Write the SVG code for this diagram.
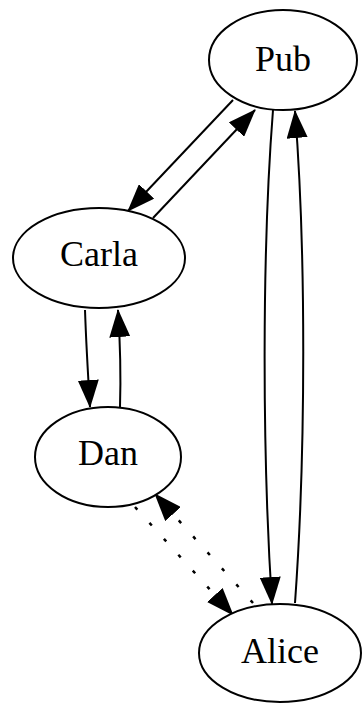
<svg xmlns="http://www.w3.org/2000/svg" width="363" height="704" viewBox="0 0 363 704">
  <style>
    .node ellipse { fill: #ffffff; stroke: #000000; stroke-width: 2; }
    .node text { font-family: "Liberation Serif", "Times New Roman", serif; font-size: 36px; fill: #000000; text-anchor: middle; }
    .edge { fill: none; stroke: #000000; stroke-width: 2; marker-end: url(#arrow); }
    .dotted { stroke-dasharray: 3.5 18; stroke-width: 2.5; }
  </style>
  <defs>
    <marker id="arrow" markerUnits="userSpaceOnUse" markerWidth="28" markerHeight="21" refX="27" refY="10.5" orient="auto" viewBox="0 0 28 21">
      <path d="M0,0 L28,10.5 L0,21 Z" fill="#000000"/>
    </marker>
  </defs>
  <rect width="363" height="704" fill="#ffffff"/>

  <g id="connectors">
    <!-- Pub <-> Carla -->
    <path class="edge" d="M233,100 L128,211"/>
    <path class="edge" d="M153,218 L255,110"/>
    <!-- Carla <-> Dan -->
    <path class="edge" d="M85,310 C86,340 88,375 90,407"/>
    <path class="edge" d="M120,407 C121,375 120,340 118,310"/>
    <!-- Pub <-> Alice -->
    <path class="edge" d="M273,110 C262,250 262,450 272,604"/>
    <path class="edge" d="M295,603 C306,450 306,250 295,111"/>
    <!-- Dan <-> Alice (dotted) -->
    <path class="edge dotted" d="M135,507 L233,615"/>
    <path class="edge dotted" d="M253,603 L155,494"/>
  </g>

  <g id="Pub" class="node">
    <ellipse cx="283" cy="60" rx="74" ry="50"/>
    <text x="283" y="71">Pub</text>
  </g>
  <g id="Carla" class="node">
    <ellipse cx="99" cy="258" rx="86" ry="50"/>
    <text x="99" y="266">Carla</text>
  </g>
  <g id="Dan" class="node">
    <ellipse cx="108" cy="457" rx="73" ry="50"/>
    <text x="108" y="465">Dan</text>
  </g>
  <g id="Alice" class="node">
    <ellipse cx="280" cy="653" rx="81" ry="49"/>
    <text x="280" y="663">Alice</text>
  </g>
</svg>
